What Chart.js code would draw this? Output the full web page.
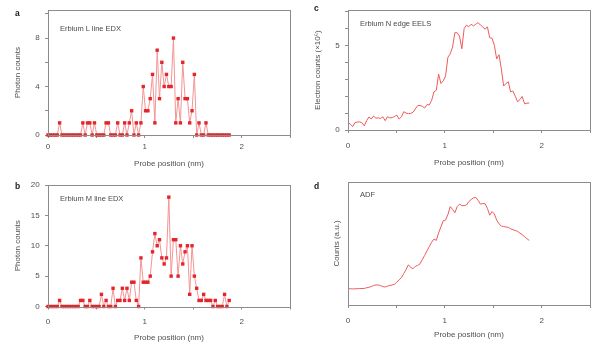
<!DOCTYPE html>
<html>
<head>
<meta charset="utf-8">
<script src="https://cdn.jsdelivr.net/npm/chart.js@4.4.0/dist/chart.umd.min.js"></script>
<style>
body { margin: 0; background: #fff; }
#fig { position: relative; width: 600px; height: 347px; overflow: hidden; font-family: 'Liberation Sans', Arial, sans-serif; }
canvas { position: absolute; }
.lbl { position: absolute; font-weight: bold; font-size: 8.5px; line-height: 8px; color: #1a1a1a; }
.inset { position: absolute; font-size: 7.5px; line-height: 8px; color: #4a4a4a; white-space: nowrap; }
</style>
</head>
<body>
<div id="fig">
  <canvas id="pa" width="300" height="170" style="left:0;top:0"></canvas>
  <canvas id="pb" width="300" height="177" style="left:0;top:170px"></canvas>
  <canvas id="pc" width="300" height="170" style="left:300px;top:0"></canvas>
  <canvas id="pd" width="300" height="177" style="left:300px;top:170px"></canvas>

  <div class="lbl" style="left:15px;top:9px">a</div>
  <div class="lbl" style="left:15px;top:182px">b</div>
  <div class="lbl" style="left:314px;top:4px">c</div>
  <div class="lbl" style="left:314px;top:182px">d</div>

  <div class="inset" style="left:60px;top:25px">Erbium L line EDX</div>
  <div class="inset" style="left:60px;top:195px">Erbium M line EDX</div>
  <div class="inset" style="left:360px;top:20px">Erbium N edge EELS</div>
  <div class="inset" style="left:360px;top:191px">ADF</div>
</div>
<script>
// --- data (one value per probe step) ---
const probeStep = 0.024; // nm between scan points
const erLlineEDX = [
  0,0,0,0,0,1,0,0,0,0,
  0,0,0,0,0,1,0,1,1,0,
  1,0,0,0,0,1,1,0,0,0,
  1,0,0,1,0,1,2,0,1,0,
  1,4,2,2,3,5,1,7,3,6,
  4,5,4,4,8,1,3,1,6,3,
  3,1,2,5,0,1,0,0,1,0,
  0,0,0,0,0,0,0,0,0
];
const erMlineEDX = [
  0,0,0,0,0,1,0,0,0,0,
  0,0,0,0,1,1,0,0,1,0,
  0,0,0,2,0,1,0,0,3,0,
  1,1,3,1,3,1,4,4,1,0,
  8,4,4,4,5,9,12,10,11,8,
  7,8,18,5,11,11,5,10,7,9,
  10,2,10,5,3,1,1,2,1,1,
  1,0,1,0,0,0,2,0,1
];
// electron counts in units of 10^5
const erNedgeEELS = [
  0.44,0.35,0.2,0.44,0.47,0.48,0.42,0.25,0.55,0.77,
  0.65,0.82,0.7,0.72,0.68,0.78,0.55,0.78,0.72,0.73,
  0.8,0.88,0.65,0.78,1.08,1.0,0.97,0.98,1.05,1.25,
  1.44,1.45,1.4,1.3,1.5,1.48,1.75,2.25,2.35,3.3,
  2.75,2.9,3.2,4.3,4.5,4.9,5.75,5.75,5.55,4.8,
  6.0,6.2,6.1,6.25,6.15,6.25,6.35,6.2,6.1,5.95,
  6.1,5.45,5.42,5.0,4.2,4.45,3.6,2.6,2.75,2.85,
  2.25,2.3,2.0,1.67,1.8,1.98,1.55,1.58,1.6
];
// arbitrary units
const adfCounts = [
  13.3,13.2,13.1,13.1,13.3,13.4,13.4,13.5,14,14.4,
  15,15.8,16.3,16.3,15.8,15,14.6,15.4,15.8,16.3,
  16.8,18.5,20.5,22.3,25.5,29,32.7,30.5,29.5,31.5,
  32.2,33.5,37,40.3,44,47.5,51,53.6,52.5,58.5,
  63.5,68.5,69,73.5,80,77.8,75,80,82,80.8,
  80.8,81.3,84,85.8,87,87.5,85,82,82.4,82.4,
  78.6,73,75.9,74,69,66,64.2,63.8,63.4,63.1,
  62,61.2,60.5,59.9,58.5,57.2,55.6,54,52.5
];
const xTickLabels = [0, 1, 2];

const axisGrey = '#8c8c8c';
const textGrey = '#505050';
const FONT = 'Liberation Sans, Arial, sans-serif';

// draws the full box around the plot area
const frame = {
  id: 'frame',
  afterDraw(chart) {
    const { ctx, chartArea: a } = chart;
    ctx.save();
    ctx.strokeStyle = axisGrey;
    ctx.lineWidth = 1;
    ctx.strokeRect(Math.round(a.left) + 0.5, Math.round(a.top) + 0.5,
      Math.round(a.right - a.left), Math.round(a.bottom - a.top));
    ctx.restore();
  }
};

function toPoints(values) {
  return values.map((v, i) => ({ x: +(i * probeStep).toFixed(3), y: v }));
}

// p: canvas rect, plot area (page coords), label gaps, axis setup
function makePanel(p) {
  const lh = 8 * 1.2;
  const canvasBottom = p.top + p.h;
  const ds = {
    data: toPoints(p.values),
    borderWidth: 1,
    tension: 0,
    clip: false
  };
  if (p.markers) {
    Object.assign(ds, {
      borderColor: '#f39494',
      pointStyle: 'rect',
      pointRadius: 2.4,
      pointBorderWidth: 0,
      pointBackgroundColor: '#e3262b'
    });
  } else {
    Object.assign(ds, { borderColor: '#ef5a5a', pointRadius: 0 });
  }

  new Chart(document.getElementById(p.id), {
    type: 'line',
    data: { datasets: [ds] },
    options: {
      responsive: false,
      animation: false,
      layout: { padding: { left: 0, bottom: 0, top: p.area.t - p.top, right: p.left + p.w - p.area.r } },
      plugins: { legend: { display: false }, tooltip: { enabled: false } },
      scales: {
        x: {
          type: 'linear', min: 0, max: 2.5,
          border: { display: false },
          grid: { drawOnChartArea: false, color: axisGrey, tickLength: 3 },
          ticks: {
            stepSize: 0.5, padding: p.xPad, color: textGrey, font: { family: FONT, size: 8 },
            maxRotation: 0,
            callback: v => xTickLabels.includes(v) ? String(v) : ''
          },
          title: {
            display: true, text: 'Probe position (nm)', color: textGrey,
            font: { family: FONT, size: 8 },
            padding: { top: 0, bottom: canvasBottom - p.xTitleY - lh / 2 }
          },
          afterFit: s => { s.height = canvasBottom - p.area.b; }
        },
        y: {
          type: 'linear', min: 0, max: p.yMax,
          border: { display: false },
          grid: { drawOnChartArea: false, color: axisGrey, tickLength: 3, drawTicks: p.yTicks.length > 0 },
          afterBuildTicks: s => { s.ticks = p.yTicks.map(v => ({ value: v })); },
          ticks: {
            display: p.yTicks.length > 0,
            padding: 5.4, color: textGrey, font: { family: FONT, size: 8 },
            callback: v => p.yLabels.includes(v) ? String(v) : ''
          },
          title: {
            display: true, text: p.yTitle, color: textGrey,
            font: { family: FONT, size: 8 },
            padding: { top: p.yTitleX - p.left - lh / 2, bottom: 0 }
          },
          afterFit: s => { s.width = p.area.l - p.left; }
        }
      }
    },
    plugins: [frame]
  });
}

makePanel({
  id: 'pa', left: 0, top: 0, w: 300, h: 170,
  area: { l: 48, t: 10, r: 290, b: 135 },
  values: erLlineEDX, markers: true,
  yMax: 10.3, yTicks: [0, 2, 4, 6, 8, 10], yLabels: [0, 4, 8],
  yTitle: 'Photon counts', yTitleX: 18, xPad: 4.2, xTitleY: 164
});
makePanel({
  id: 'pb', left: 0, top: 170, w: 300, h: 177,
  area: { l: 48, t: 185, r: 290, b: 306.5 },
  values: erMlineEDX, markers: true,
  yMax: 20, yTicks: [0, 5, 10, 15, 20], yLabels: [0, 5, 10, 15, 20],
  yTitle: 'Photon counts', yTitleX: 18, xPad: 7.2, xTitleY: 338
});
makePanel({
  id: 'pc', left: 300, top: 0, w: 300, h: 170,
  area: { l: 348, t: 7, r: 590, b: 130 },
  values: erNedgeEELS, markers: false,
  yMax: 7.08, yTicks: [0, 1, 2, 3, 4, 5, 6, 7], yLabels: [0, 5],
  yTitle: 'Electron counts (×10⁵)', yTitleX: 318, xPad: 7.9, xTitleY: 163
});
makePanel({
  id: 'pd', left: 300, top: 170, w: 300, h: 177,
  area: { l: 348, t: 182, r: 590, b: 305 },
  values: adfCounts, markers: false,
  yMax: 100, yTicks: [], yLabels: [],
  yTitle: 'Counts (a.u.)', yTitleX: 336.5, xPad: 8.2, xTitleY: 335
});
</script>
</body>
</html>
